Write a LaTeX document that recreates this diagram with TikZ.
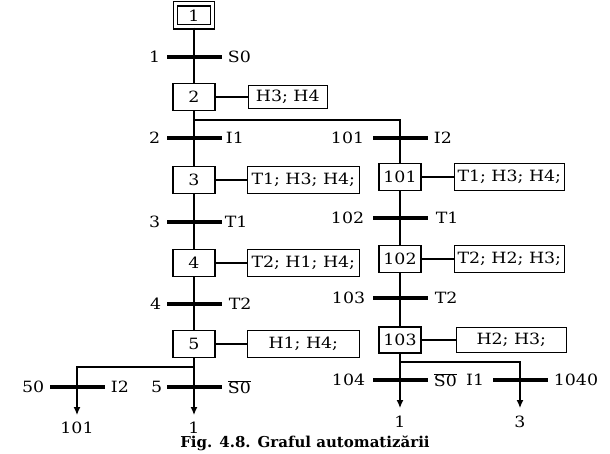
\documentclass[tikz,border=0pt]{standalone}
\usepackage{fontspec}
\setmainfont{DejaVu Serif}
\newfontfamily\grafont[FakeStretch=1.12]{DejaVu Serif}
\usetikzlibrary{arrows.meta, positioning}

\begin{document}
\begin{tikzpicture}[
    x=1pt, y=-1pt,
    >={Latex[length=8pt,width=7pt]}, % filled arrow tips
    font=\grafont\fontsize{15.5}{17}\selectfont,
    stepbox/.style={draw, line width=1.3pt, minimum width=42pt, minimum height=27pt, inner sep=0pt},
    actbox/.style={draw, line width=1.3pt, minimum width=110pt, minimum height=27pt, inner sep=1pt},
    trbar/.style={fill=black, minimum width=55pt, minimum height=3.4pt, inner sep=0pt},
    link/.style={line width=1.3pt},
    lbl/.style={inner sep=1pt},
    outlbl/.style={inner sep=0pt, outer sep=7pt, anchor=north}
]
    \useasboundingbox (0,0) rectangle (610,454);

    % ######## left column (steps 1 ... 5)
    \node[stepbox, double, double distance=3pt, minimum width=37pt, minimum height=23pt] (s1) at (194,15.5) {1};
    \node[trbar] (t1) at (194,57) {};
    \node[stepbox] (s2) at (194,97) {2};
    \coordinate (br2) at (194,120);
    \node[trbar] (t2) at (194,138) {};
    \node[stepbox] (s3) at (194,180) {3};
    \node[trbar] (t3) at (194,222) {};
    \node[stepbox] (s4) at (194,263) {4};
    \node[trbar] (t4) at (194,304) {};
    \node[stepbox] (s5) at (194,344) {5};
    \coordinate (br5) at (194,367);
    \node[trbar] (t5) at (194,387) {};
    \node[trbar] (t50) at (77,387) {};
    \node[outlbl] (o5) at (194,415) {1};
    \node[outlbl] (o50) at (77,415) {101};

    % ######## right column (steps 101 ... 103)
    \node[trbar] (t101) at (400,138) {};
    \node[stepbox] (s101) at (400,177) {101};
    \node[trbar] (t102) at (400,218) {};
    \node[stepbox] (s102) at (400,259) {102};
    \node[trbar] (t103) at (400,298) {};
    \node[stepbox, minimum height=26pt] (s103) at (400,340) {103};
    \coordinate (br103) at (400,362);
    \node[trbar] (t104) at (400,380) {};
    \node[trbar] (t1040) at (520,380) {};
    \node[outlbl, outer sep=8pt] (o104) at (400,408) {1};
    \node[outlbl, outer sep=8pt] (o1040) at (520,408) {3};

    % ######## actions
    \node[actbox, minimum width=79pt, minimum height=23pt, right=32pt of s2] (a2) {H3; H4};
    \node[actbox, minimum width=112pt, right=31pt of s3] (a3) {T1; H3; H4;};
    \node[actbox, minimum width=112pt, right=31pt of s4] (a4) {T2; H1; H4;};
    \node[actbox, minimum width=112pt, right=31pt of s5] (a5) {H1; H4;};
    \node[actbox, right=32pt of s101] (a101) {T1; H3; H4;};
    \node[actbox, right=32pt of s102] (a102) {T2; H2; H3;};
    \node[actbox, minimum height=25pt, right=34pt of s103] (a103) {H2; H3;};

    % ######## transition labels
    \node[lbl, left=5pt of t1] (n1) {1};
    \node[lbl, right=5pt of t1] (c1) {S0};
    \node[lbl, left=5pt of t2] (n2) {2};
    \node[lbl, right=3pt of t2] (c2) {I1};
    \node[lbl, left=5pt of t3] (n3) {3};
    \node[lbl, right=2pt of t3] (c3) {T1};
    \node[lbl, left=4pt of t4] (n4) {4};
    \node[lbl, right=6pt of t4] (c4) {T2};
    \node[lbl, left=3pt of t5] (n5) {5};
    \node[lbl, right=5pt of t5] (c5) {$\overline{\hbox{S0}}$};
    \node[lbl, left=4pt of t50] (n50) {50};
    \node[lbl, right=5pt of t50] (c50) {I2};
    \node[lbl, left=7pt of t101] (n101) {101};
    \node[lbl, right=5pt of t101] (c101) {I2};
    \node[lbl, left=7pt of t102] (n102) {102};
    \node[lbl, right=7pt of t102] (c102) {T1};
    \node[lbl, left=6pt of t103] (n103) {103};
    \node[lbl, right=6pt of t103] (c103) {T2};
    \node[lbl, left=6pt of t104] (n104) {104};
    \node[lbl, right=5pt of t104] (c104) {$\overline{\hbox{S0}}$};
    \node[lbl, left=7pt of t1040] (n1040) {I1};
    \node[lbl, right=5pt of t1040] (c1040) {1040};

    % Draw connections
    \draw[link] (s1) -- (t1) -- (s2);
    \draw[link] (s2) -- (t2) -- (s3);
    \draw[link] (br2) -| (t101) -- (s101);
    \draw[link] (s3) -- (t3) -- (s4);
    \draw[link] (s4) -- (t4) -- (s5);
    \draw[link, ->] (s5) -- (t5) -- (o5);
    \draw[link, ->] (br5) -| (t50) -- (o50);
    \draw[link] (s101) -- (t102) -- (s102);
    \draw[link] (s102) -- (t103) -- (s103);
    \draw[link, ->] (s103) -- (t104) -- (o104);
    \draw[link, ->] (br103) -| (t1040) -- (o1040);

    % step -- action links
    \draw[link] (s2) -- (a2);
    \draw[link] (s3) -- (a3);
    \draw[link] (s4) -- (a4);
    \draw[link] (s5) -- (a5);
    \draw[link] (s101) -- (a101);
    \draw[link] (s102) -- (a102);
    \draw[link] (s103) -- (a103);

    % caption
    \node[font=\fontsize{15}{17}\selectfont\bfseries] (cap) at (305,443) {Fig. 4.8. Graful automatizării};

\end{tikzpicture}
\end{document}
